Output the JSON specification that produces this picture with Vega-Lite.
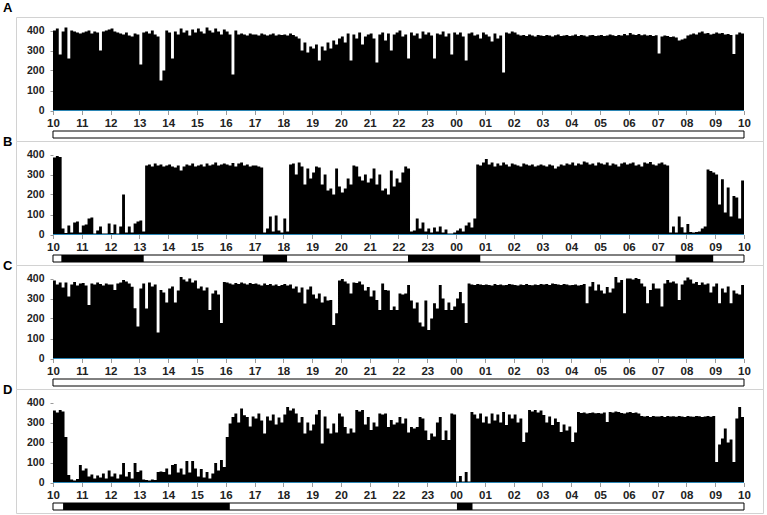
{
"$schema": "https://vega.github.io/schema/vega-lite/v6.json",
"padding": {"left": 2, "top": 1, "right": 0, "bottom": 0},
"background": "white",
"bounds": "flush",
"spacing": 0,
"datasets": {
"act": [
{"t":0,"A":400,"B":385,"C":390,"D":360},{"t":1,"A":410,"B":392,"C":370,"D":350},{"t":2,"A":280,"B":388,"C":380,"D":362},{"t":3,"A":395,"B":30,"C":355,"D":355},{"t":4,"A":415,"B":8,"C":380,"D":228},{"t":5,"A":260,"B":45,"C":310,"D":37},{"t":6,"A":400,"B":10,"C":370,"D":15},{"t":7,"A":395,"B":60,"C":383,"D":10},{"t":8,"A":390,"B":65,"C":365,"D":18},{"t":9,"A":385,"B":10,"C":375,"D":87},
{"t":10,"A":390,"B":45,"C":378,"D":60},{"t":11,"A":395,"B":50,"C":365,"D":70},{"t":12,"A":400,"B":80,"C":268,"D":30},{"t":13,"A":385,"B":85,"C":375,"D":40},{"t":14,"A":395,"B":5,"C":370,"D":20},{"t":15,"A":390,"B":20,"C":380,"D":35},{"t":16,"A":300,"B":40,"C":372,"D":25},{"t":17,"A":395,"B":5,"C":365,"D":45},{"t":18,"A":400,"B":5,"C":375,"D":20},{"t":19,"A":405,"B":55,"C":370,"D":60},
{"t":20,"A":410,"B":8,"C":370,"D":30},{"t":21,"A":395,"B":50,"C":342,"D":45},{"t":22,"A":390,"B":5,"C":375,"D":20},{"t":23,"A":385,"B":40,"C":380,"D":40},{"t":24,"A":380,"B":200,"C":392,"D":98},{"t":25,"A":390,"B":10,"C":385,"D":30},{"t":26,"A":375,"B":40,"C":375,"D":53},{"t":27,"A":370,"B":10,"C":359,"D":20},{"t":28,"A":385,"B":55,"C":251,"D":98},{"t":29,"A":380,"B":65,"C":160,"D":53},
{"t":30,"A":230,"B":70,"C":350,"D":60},{"t":31,"A":390,"B":15,"C":375,"D":15},{"t":32,"A":395,"B":345,"C":250,"D":12},{"t":33,"A":385,"B":350,"C":380,"D":10},{"t":34,"A":400,"B":340,"C":360,"D":15},{"t":35,"A":380,"B":355,"C":370,"D":12},{"t":36,"A":370,"B":345,"C":130,"D":53},{"t":37,"A":150,"B":350,"C":342,"D":55},{"t":38,"A":200,"B":340,"C":330,"D":53},{"t":39,"A":400,"B":345,"C":280,"D":70},
{"t":40,"A":390,"B":350,"C":350,"D":40},{"t":41,"A":260,"B":340,"C":360,"D":87},{"t":42,"A":395,"B":335,"C":280,"D":92},{"t":43,"A":380,"B":345,"C":340,"D":50},{"t":44,"A":410,"B":320,"C":408,"D":70},{"t":45,"A":390,"B":340,"C":395,"D":40},{"t":46,"A":400,"B":350,"C":385,"D":107},{"t":47,"A":375,"B":345,"C":400,"D":50},{"t":48,"A":405,"B":355,"C":380,"D":108},{"t":49,"A":390,"B":340,"C":390,"D":70},
{"t":50,"A":410,"B":345,"C":350,"D":30},{"t":51,"A":395,"B":350,"C":360,"D":67},{"t":52,"A":385,"B":340,"C":340,"D":25},{"t":53,"A":415,"B":355,"C":355,"D":53},{"t":54,"A":400,"B":345,"C":243,"D":20},{"t":55,"A":390,"B":350,"C":325,"D":45},{"t":56,"A":410,"B":360,"C":340,"D":98},{"t":57,"A":395,"B":345,"C":320,"D":60},{"t":58,"A":380,"B":350,"C":177,"D":112},{"t":59,"A":405,"B":355,"C":383,"D":78},
{"t":60,"A":395,"B":350,"C":380,"D":228},{"t":61,"A":380,"B":345,"C":375,"D":295},{"t":62,"A":180,"B":358,"C":370,"D":328},{"t":63,"A":400,"B":340,"C":378,"D":345},{"t":64,"A":380,"B":355,"C":372,"D":300},{"t":65,"A":385,"B":360,"C":380,"D":370},{"t":66,"A":380,"B":345,"C":375,"D":336},{"t":67,"A":375,"B":350,"C":370,"D":328},{"t":68,"A":385,"B":340,"C":378,"D":280},{"t":69,"A":380,"B":345,"C":372,"D":330},
{"t":70,"A":380,"B":345,"C":375,"D":320},{"t":71,"A":375,"B":340,"C":370,"D":345},{"t":72,"A":385,"B":335,"C":365,"D":310},{"t":73,"A":380,"B":10,"C":375,"D":245},{"t":74,"A":375,"B":30,"C":368,"D":330},{"t":75,"A":380,"B":90,"C":372,"D":310},{"t":76,"A":385,"B":15,"C":365,"D":340},{"t":77,"A":375,"B":95,"C":370,"D":290},{"t":78,"A":380,"B":20,"C":362,"D":325},{"t":79,"A":378,"B":10,"C":368,"D":300},
{"t":80,"A":380,"B":80,"C":372,"D":340},{"t":81,"A":375,"B":15,"C":365,"D":378},{"t":82,"A":385,"B":350,"C":370,"D":360},{"t":83,"A":378,"B":355,"C":350,"D":370},{"t":84,"A":370,"B":300,"C":360,"D":345},{"t":85,"A":360,"B":360,"C":330,"D":300},{"t":86,"A":300,"B":340,"C":355,"D":328},{"t":87,"A":340,"B":250,"C":275,"D":245},{"t":88,"A":290,"B":330,"C":345,"D":300},{"t":89,"A":320,"B":280,"C":360,"D":260},
{"t":90,"A":310,"B":310,"C":320,"D":290},{"t":91,"A":330,"B":340,"C":300,"D":340},{"t":92,"A":250,"B":335,"C":325,"D":362},{"t":93,"A":320,"B":250,"C":280,"D":195},{"t":94,"A":300,"B":300,"C":310,"D":330},{"t":95,"A":340,"B":220,"C":290,"D":270},{"t":96,"A":310,"B":230,"C":292,"D":245},{"t":97,"A":350,"B":200,"C":168,"D":295},{"t":98,"A":330,"B":330,"C":226,"D":250},{"t":99,"A":360,"B":240,"C":390,"D":345},
{"t":100,"A":370,"B":210,"C":397,"D":330},{"t":101,"A":340,"B":230,"C":385,"D":278},{"t":102,"A":385,"B":280,"C":375,"D":245},{"t":103,"A":250,"B":250,"C":325,"D":270},{"t":104,"A":380,"B":345,"C":380,"D":250},{"t":105,"A":360,"B":340,"C":378,"D":362},{"t":106,"A":390,"B":290,"C":385,"D":355},{"t":107,"A":330,"B":270,"C":370,"D":362},{"t":108,"A":370,"B":300,"C":340,"D":290},{"t":109,"A":380,"B":260,"C":358,"D":328},
{"t":110,"A":385,"B":280,"C":310,"D":262},{"t":111,"A":360,"B":330,"C":340,"D":300},{"t":112,"A":240,"B":250,"C":292,"D":280},{"t":113,"A":380,"B":300,"C":243,"D":345},{"t":114,"A":390,"B":220,"C":375,"D":340},{"t":115,"A":350,"B":230,"C":342,"D":345},{"t":116,"A":385,"B":200,"C":340,"D":278},{"t":117,"A":300,"B":320,"C":243,"D":312},{"t":118,"A":380,"B":240,"C":260,"D":290},{"t":119,"A":390,"B":280,"C":243,"D":300},
{"t":120,"A":400,"B":260,"C":325,"D":328},{"t":121,"A":370,"B":310,"C":320,"D":295},{"t":122,"A":380,"B":340,"C":325,"D":320},{"t":123,"A":260,"B":330,"C":367,"D":250},{"t":124,"A":390,"B":15,"C":290,"D":278},{"t":125,"A":375,"B":20,"C":250,"D":270},{"t":126,"A":385,"B":80,"C":280,"D":278},{"t":127,"A":360,"B":30,"C":180,"D":328},{"t":128,"A":395,"B":60,"C":160,"D":320},{"t":129,"A":380,"B":15,"C":290,"D":260},
{"t":130,"A":390,"B":30,"C":143,"D":212},{"t":131,"A":375,"B":10,"C":200,"D":245},{"t":132,"A":260,"B":35,"C":276,"D":230},{"t":133,"A":385,"B":15,"C":250,"D":300},{"t":134,"A":380,"B":40,"C":367,"D":328},{"t":135,"A":395,"B":10,"C":300,"D":212},{"t":136,"A":370,"B":25,"C":243,"D":260},{"t":137,"A":385,"B":5,"C":280,"D":212},{"t":138,"A":280,"B":5,"C":243,"D":345},{"t":139,"A":390,"B":10,"C":260,"D":340},
{"t":140,"A":380,"B":20,"C":300,"D":5},{"t":141,"A":390,"B":30,"C":333,"D":32},{"t":142,"A":370,"B":15,"C":276,"D":5},{"t":143,"A":250,"B":45,"C":177,"D":53},{"t":144,"A":385,"B":60,"C":375,"D":5},{"t":145,"A":390,"B":35,"C":370,"D":353},{"t":146,"A":375,"B":80,"C":368,"D":340},{"t":147,"A":380,"B":350,"C":372,"D":320},{"t":148,"A":360,"B":345,"C":370,"D":345},{"t":149,"A":390,"B":360,"C":368,"D":300},
{"t":150,"A":380,"B":378,"C":370,"D":330},{"t":151,"A":370,"B":350,"C":368,"D":295},{"t":152,"A":345,"B":360,"C":365,"D":345},{"t":153,"A":385,"B":340,"C":372,"D":310},{"t":154,"A":360,"B":355,"C":368,"D":340},{"t":155,"A":375,"B":345,"C":370,"D":300},{"t":156,"A":190,"B":360,"C":366,"D":353},{"t":157,"A":390,"B":350,"C":368,"D":287},{"t":158,"A":385,"B":340,"C":372,"D":340},{"t":159,"A":395,"B":355,"C":370,"D":320},
{"t":160,"A":390,"B":350,"C":368,"D":340},{"t":161,"A":380,"B":345,"C":365,"D":300},{"t":162,"A":375,"B":340,"C":370,"D":320},{"t":163,"A":378,"B":355,"C":367,"D":203},{"t":164,"A":372,"B":350,"C":372,"D":250},{"t":165,"A":380,"B":345,"C":368,"D":362},{"t":166,"A":375,"B":350,"C":366,"D":355},{"t":167,"A":370,"B":340,"C":370,"D":362},{"t":168,"A":378,"B":345,"C":368,"D":350},{"t":169,"A":375,"B":350,"C":372,"D":360},
{"t":170,"A":372,"B":345,"C":370,"D":337},{"t":171,"A":378,"B":340,"C":372,"D":300},{"t":172,"A":375,"B":350,"C":368,"D":330},{"t":173,"A":370,"B":345,"C":375,"D":287},{"t":174,"A":376,"B":330,"C":372,"D":320},{"t":175,"A":380,"B":340,"C":370,"D":303},{"t":176,"A":372,"B":350,"C":368,"D":253},{"t":177,"A":375,"B":345,"C":372,"D":290},{"t":178,"A":378,"B":355,"C":370,"D":260},{"t":179,"A":373,"B":350,"C":366,"D":280},
{"t":180,"A":375,"B":360,"C":368,"D":203},{"t":181,"A":380,"B":345,"C":370,"D":250},{"t":182,"A":372,"B":355,"C":365,"D":353},{"t":183,"A":378,"B":350,"C":368,"D":348},{"t":184,"A":375,"B":365,"C":372,"D":350},{"t":185,"A":370,"B":360,"C":276,"D":345},{"t":186,"A":376,"B":350,"C":360,"D":348},{"t":187,"A":378,"B":355,"C":383,"D":350},{"t":188,"A":372,"B":345,"C":340,"D":346},{"t":189,"A":375,"B":360,"C":370,"D":348},
{"t":190,"A":378,"B":355,"C":340,"D":345},{"t":191,"A":372,"B":350,"C":325,"D":350},{"t":192,"A":375,"B":360,"C":358,"D":303},{"t":193,"A":380,"B":345,"C":330,"D":353},{"t":194,"A":376,"B":355,"C":350,"D":350},{"t":195,"A":373,"B":350,"C":408,"D":355},{"t":196,"A":378,"B":340,"C":380,"D":352},{"t":197,"A":375,"B":355,"C":392,"D":348},{"t":198,"A":382,"B":360,"C":226,"D":345},{"t":199,"A":376,"B":350,"C":400,"D":350},
{"t":200,"A":388,"B":355,"C":400,"D":353},{"t":201,"A":380,"B":360,"C":395,"D":348},{"t":202,"A":378,"B":345,"C":402,"D":350},{"t":203,"A":382,"B":350,"C":398,"D":345},{"t":204,"A":376,"B":340,"C":375,"D":333},{"t":205,"A":380,"B":360,"C":360,"D":330},{"t":206,"A":375,"B":355,"C":276,"D":332},{"t":207,"A":378,"B":362,"C":342,"D":328},{"t":208,"A":372,"B":350,"C":375,"D":333},{"t":209,"A":376,"B":345,"C":350,"D":330},
{"t":210,"A":285,"B":355,"C":350,"D":330},{"t":211,"A":370,"B":360,"C":260,"D":332},{"t":212,"A":375,"B":350,"C":375,"D":328},{"t":213,"A":372,"B":345,"C":392,"D":333},{"t":214,"A":368,"B":10,"C":380,"D":330},{"t":215,"A":370,"B":40,"C":385,"D":331},{"t":216,"A":365,"B":10,"C":375,"D":329},{"t":217,"A":350,"B":90,"C":292,"D":333},{"t":218,"A":355,"B":36,"C":370,"D":330},{"t":219,"A":360,"B":10,"C":390,"D":328},
{"t":220,"A":375,"B":53,"C":405,"D":332},{"t":221,"A":380,"B":12,"C":395,"D":330},{"t":222,"A":385,"B":10,"C":375,"D":329},{"t":223,"A":380,"B":12,"C":383,"D":333},{"t":224,"A":390,"B":15,"C":367,"D":331},{"t":225,"A":395,"B":30,"C":380,"D":328},{"t":226,"A":385,"B":40,"C":370,"D":330},{"t":227,"A":388,"B":325,"C":375,"D":332},{"t":228,"A":380,"B":317,"C":330,"D":329},{"t":229,"A":384,"B":310,"C":360,"D":333},
{"t":230,"A":390,"B":300,"C":375,"D":103},{"t":231,"A":385,"B":150,"C":276,"D":190},{"t":232,"A":388,"B":276,"C":350,"D":220},{"t":233,"A":380,"B":110,"C":330,"D":270},{"t":234,"A":382,"B":235,"C":360,"D":200},{"t":235,"A":378,"B":90,"C":276,"D":215},{"t":236,"A":283,"B":193,"C":340,"D":103},{"t":237,"A":380,"B":185,"C":325,"D":320},{"t":238,"A":390,"B":80,"C":320,"D":378},{"t":239,"A":385,"B":270,"C":367,"D":328},
{"t":240,"A":380,"B":200,"C":360,"D":330}
],
"ld": [
{"p":"B","s":2.9,"e":31.5},{"p":"B","s":72.9,"e":81.3},{"p":"B","s":123.3,"e":148.4},{"p":"B","s":216.2,"e":229.3},
{"p":"D","s":3.5,"e":61.4},{"p":"D","s":140.3,"e":145.7}
]
},
"config": {
"view": {"stroke": "#d2d2d2", "strokeWidth": 1},
"axis": {"grid": false, "domain": false, "labelFont": "Liberation Sans", "labelFontWeight": "bold", "labelColor": "#222", "tickColor": "#9a9a9a"},
"title": {"font": "Liberation Sans", "fontSize": 13, "fontWeight": "bold", "color": "#000", "anchor": "start", "frame": "group"}
},
"vconcat": [
{"width": 747, "height": 124, "title": {"text": "A", "dx": -13, "offset": 2},
 "data": {"name": "act"},
 "layer": [
  {"mark": {"type": "area", "interpolate": "step-after", "color": "#000"},
   "encoding": {
    "x": {"field": "t", "type": "quantitative", "scale": {"domain": [-12.85, 246.6], "nice": false, "zero": false},
          "axis": {"title": null, "values": [0,10,20,30,40,50,60,70,80,90,100,110,120,130,140,150,160,170,180,190,200,210,220,230,240], "tickCount": 40, "labelExpr": "format((datum.value/10+10)%24, '02d')", "labelOverlap": false, "labelBound": false, "labelFlush": false, "offset": -30.5, "tickSize": 4, "labelPadding": 3, "labelFontSize": 11.5}},
    "y": {"field": "A", "type": "quantitative", "scale": {"domain": [-152.5, 467.5], "nice": false, "zero": false},
          "axis": {"title": null, "values": [0,100,200,300,400], "tickCount": 10, "labelOverlap": false, "offset": -37, "tickSize": 3, "labelPadding": 6, "labelFontSize": 10.5}},
    "y2": {"datum": 0}}},
  {"data": {"values": [{}]}, "mark": {"type": "rule", "color": "#2b86b5", "strokeWidth": 1},
   "encoding": {"x": {"datum": 0}, "x2": {"datum": 240}, "y": {"datum": 0}}},
  {"data": {"values": [{}]}, "mark": {"type": "rect", "fill": "#fff", "stroke": "#000", "strokeWidth": 1},
   "encoding": {"x": {"datum": 0}, "x2": {"datum": 240}, "y": {"datum": -102.5}, "y2": {"datum": -137.5}}}
 ]},
{"width": 747, "height": 124, "title": {"text": "B", "dx": -13, "offset": -8},
 "data": {"name": "act"},
 "layer": [
  {"mark": {"type": "area", "interpolate": "step-after", "color": "#000"},
   "encoding": {
    "x": {"field": "t", "type": "quantitative", "scale": {"domain": [-12.85, 246.6], "nice": false, "zero": false},
          "axis": {"title": null, "values": [0,10,20,30,40,50,60,70,80,90,100,110,120,130,140,150,160,170,180,190,200,210,220,230,240], "tickCount": 40, "labelExpr": "format((datum.value/10+10)%24, '02d')", "labelOverlap": false, "labelBound": false, "labelFlush": false, "offset": -30.5, "tickSize": 4, "labelPadding": 3, "labelFontSize": 11.5}},
    "y": {"field": "B", "type": "quantitative", "scale": {"domain": [-152.5, 467.5], "nice": false, "zero": false},
          "axis": {"title": null, "values": [0,100,200,300,400], "tickCount": 10, "labelOverlap": false, "offset": -37, "tickSize": 3, "labelPadding": 6, "labelFontSize": 10.5}},
    "y2": {"datum": 0}}},
  {"data": {"values": [{}]}, "mark": {"type": "rule", "color": "#2b86b5", "strokeWidth": 1},
   "encoding": {"x": {"datum": 0}, "x2": {"datum": 240}, "y": {"datum": 0}}},
  {"data": {"values": [{}]}, "mark": {"type": "rect", "fill": "#fff", "stroke": "#000", "strokeWidth": 1},
   "encoding": {"x": {"datum": 0}, "x2": {"datum": 240}, "y": {"datum": -102.5}, "y2": {"datum": -137.5}}},
  {"data": {"name": "ld"}, "transform": [{"filter": "datum.p == 'B'"}], "mark": {"type": "rect", "fill": "#000"},
   "encoding": {"x": {"field": "s", "type": "quantitative"}, "x2": {"field": "e"}, "y": {"datum": -102.5}, "y2": {"datum": -137.5}}}
 ]},
{"width": 747, "height": 124, "title": {"text": "C", "dx": -13, "offset": -8},
 "data": {"name": "act"},
 "layer": [
  {"mark": {"type": "area", "interpolate": "step-after", "color": "#000"},
   "encoding": {
    "x": {"field": "t", "type": "quantitative", "scale": {"domain": [-12.85, 246.6], "nice": false, "zero": false},
          "axis": {"title": null, "values": [0,10,20,30,40,50,60,70,80,90,100,110,120,130,140,150,160,170,180,190,200,210,220,230,240], "tickCount": 40, "labelExpr": "format((datum.value/10+10)%24, '02d')", "labelOverlap": false, "labelBound": false, "labelFlush": false, "offset": -30.5, "tickSize": 4, "labelPadding": 3, "labelFontSize": 11.5}},
    "y": {"field": "C", "type": "quantitative", "scale": {"domain": [-152.5, 467.5], "nice": false, "zero": false},
          "axis": {"title": null, "values": [0,100,200,300,400], "tickCount": 10, "labelOverlap": false, "offset": -37, "tickSize": 3, "labelPadding": 6, "labelFontSize": 10.5}},
    "y2": {"datum": 0}}},
  {"data": {"values": [{}]}, "mark": {"type": "rule", "color": "#2b86b5", "strokeWidth": 1},
   "encoding": {"x": {"datum": 0}, "x2": {"datum": 240}, "y": {"datum": 0}}},
  {"data": {"values": [{}]}, "mark": {"type": "rect", "fill": "#fff", "stroke": "#000", "strokeWidth": 1},
   "encoding": {"x": {"datum": 0}, "x2": {"datum": 240}, "y": {"datum": -102.5}, "y2": {"datum": -137.5}}}
 ]},
{"width": 747, "height": 124, "title": {"text": "D", "dx": -13, "offset": -8},
 "data": {"name": "act"},
 "layer": [
  {"mark": {"type": "area", "interpolate": "step-after", "color": "#000"},
   "encoding": {
    "x": {"field": "t", "type": "quantitative", "scale": {"domain": [-12.85, 246.6], "nice": false, "zero": false},
          "axis": {"title": null, "values": [0,10,20,30,40,50,60,70,80,90,100,110,120,130,140,150,160,170,180,190,200,210,220,230,240], "tickCount": 40, "labelExpr": "format((datum.value/10+10)%24, '02d')", "labelOverlap": false, "labelBound": false, "labelFlush": false, "offset": -30.5, "tickSize": 4, "labelPadding": 3, "labelFontSize": 11.5}},
    "y": {"field": "D", "type": "quantitative", "scale": {"domain": [-152.5, 467.5], "nice": false, "zero": false},
          "axis": {"title": null, "values": [0,100,200,300,400], "tickCount": 10, "labelOverlap": false, "offset": -37, "tickSize": 3, "labelPadding": 6, "labelFontSize": 10.5}},
    "y2": {"datum": 0}}},
  {"data": {"values": [{}]}, "mark": {"type": "rule", "color": "#2b86b5", "strokeWidth": 1},
   "encoding": {"x": {"datum": 0}, "x2": {"datum": 240}, "y": {"datum": 0}}},
  {"data": {"values": [{}]}, "mark": {"type": "rect", "fill": "#fff", "stroke": "#000", "strokeWidth": 1},
   "encoding": {"x": {"datum": 0}, "x2": {"datum": 240}, "y": {"datum": -102.5}, "y2": {"datum": -137.5}}},
  {"data": {"name": "ld"}, "transform": [{"filter": "datum.p == 'D'"}], "mark": {"type": "rect", "fill": "#000"},
   "encoding": {"x": {"field": "s", "type": "quantitative"}, "x2": {"field": "e"}, "y": {"datum": -102.5}, "y2": {"datum": -137.5}}}
 ]}
]
}
